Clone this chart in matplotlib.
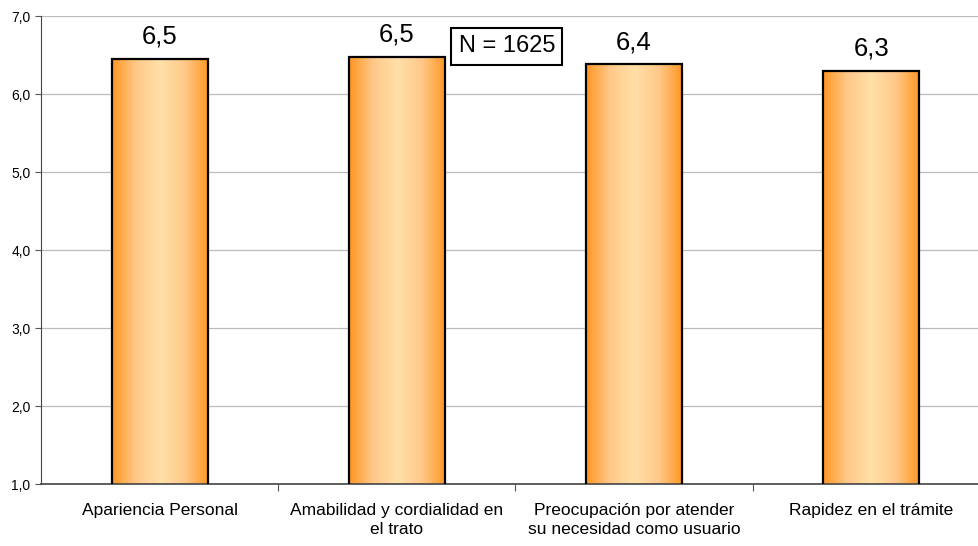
import numpy as np
import matplotlib
matplotlib.use("Agg")
from matplotlib import pyplot as plt
from matplotlib.colors import LinearSegmentedColormap

categories = ["Apariencia Personal", "Amabilidad y cordialidad en\nel trato",
              "Preocupación por atender\nsu necesidad como usuario", "Rapidez en el trámite"]
values = [6.45, 6.48, 6.38, 6.30]
value_labels = ["6,5", "6,5", "6,4", "6,3"]
yticks = [1, 2, 3, 4, 5, 6, 7]

plt.rcParams['font.family'] = ['Liberation Sans', 'DejaVu Sans']

fig = plt.figure(figsize=(9.79, 5.46), dpi=100)
ax = fig.add_axes([41/979, 62/546, 949/979, 468/546])

x = np.arange(len(categories))
width = 0.405
cmap = LinearSegmentedColormap.from_list("orng", ["#FF9622", "#FFC98A", "#FFDFA8", "#FFC98A", "#FF9622"])
grad = np.linspace(0, 1, 256).reshape(1, -1)

bars = ax.bar(x, values, width, bottom=0, color="none", edgecolor="black", linewidth=1.6, zorder=3)
for b, v, lab in zip(bars, values, value_labels):
    x0 = b.get_x()
    im = ax.imshow(grad, cmap=cmap, aspect="auto", extent=[x0, x0 + width, 1, v], zorder=2)
    im.set_clip_path(b)
    ax.text(x0 + width / 2, v + 0.13, lab, ha="center", va="bottom", fontsize=18.5)

ax.set_xlim(-0.5, 3.5)
ax.set_ylim(1, 7)
ax.set_yticks(yticks)
ax.set_yticklabels([f"{t},0" for t in yticks], fontsize=10)
ax.set_xticks([0.5, 1.5, 2.5])
ax.set_xticklabels([])
ax.tick_params(axis="x", length=5, color="#555555")
ax.tick_params(axis="y", length=4, color="#555555")
for i, c in enumerate(categories):
    ax.text(i, 0.75, c, ha="center", va="top", fontsize=12.5, linespacing=1.25)

ax.yaxis.grid(True, color="#BBBBBB", linewidth=0.9, zorder=0)
ax.set_axisbelow(True)
for s in ["top", "right"]:
    ax.spines[s].set_visible(False)
ax.spines["left"].set_color("#444444")
ax.spines["bottom"].set_color("#444444")
ax.spines["bottom"].set_linewidth(1.2)

ax.text(1.26, 6.61, "N = 1625", ha="left", va="center", fontsize=17,
        bbox=dict(boxstyle="square,pad=0.3", facecolor="white", edgecolor="black", linewidth=1.5))

fig.savefig("out.png", dpi=100)
